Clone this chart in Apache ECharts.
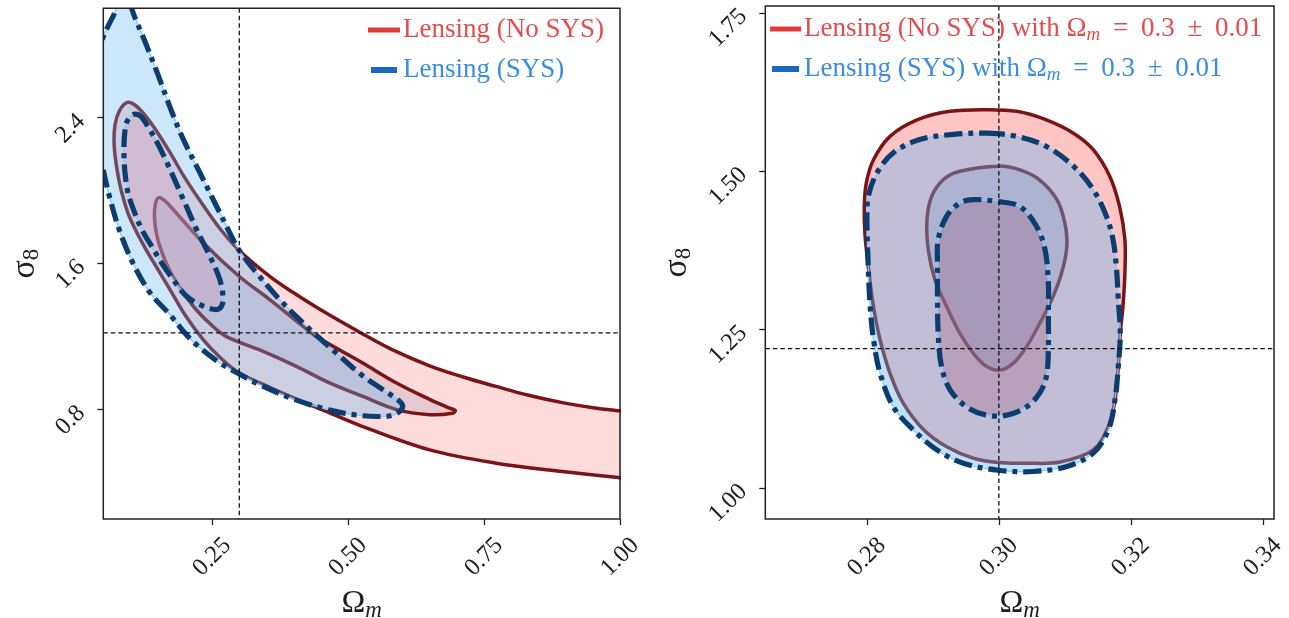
<!DOCTYPE html>
<html>
<head>
<meta charset="utf-8">
<script src="https://cdn.jsdelivr.net/npm/echarts@6/dist/echarts.min.js"></script>
<style>html,body{margin:0;padding:0;background:#fff}#chart{width:1289px;height:618px}</style>
</head>
<body>
<div id="chart"></div>
<script>
// ---------------- data ----------------
const refOmegaM = 0.3;
const refSigma8 = 1.22;

const leftXTicks = [0.25, 0.50, 0.75, 1.00];
const leftYTicks = [0.8, 1.6, 2.4];
const rightXTicks = [0.28, 0.30, 0.32, 0.34];
const rightYTicks = [1.00, 1.25, 1.50, 1.75];

const legendLeft = ['Lensing (No SYS)', 'Lensing (SYS)'];
const legendRight = ['Lensing (No SYS) with ', 'Lensing (SYS) with '];
const priorText = ['0.3', '0.01'];

// Left panel: wide prior, contours [Omega_m, sigma_8]
const leftRedOuter = [[0.094,2.484],[0.108,2.47],[0.125,2.42],[0.145,2.34],[0.1726,2.21],[0.20,2.07],[0.2336,1.92],[0.265,1.79],[0.30,1.672],[0.356,1.53],[0.40,1.44],[0.448,1.35],[0.524,1.22],[0.58,1.13],[0.65,1.04],[0.71,0.98],[0.772,0.927],[0.83,0.88],[0.894,0.838],[0.95,0.81],[0.992,0.795],[1.06,0.775],[1.06,0.413],[0.992,0.429],[0.894,0.46],[0.772,0.506],[0.65,0.579],[0.527,0.707],[0.466,0.782],[0.405,0.857],[0.35,0.93],[0.30,1.0],[0.265,1.085],[0.2336,1.184],[0.20,1.32],[0.1726,1.458],[0.15,1.57],[0.128,1.68],[0.11,1.78],[0.095,1.88],[0.083,2.0],[0.075,2.12],[0.07,2.25],[0.0715,2.36],[0.08,2.44]];
const leftRedInner = [[0.152,1.962],[0.165,1.94],[0.1726,1.916],[0.2336,1.715],[0.2996,1.531],[0.356,1.403],[0.417,1.257],[0.4417,1.20],[0.527,1.055],[0.589,0.946],[0.65,0.856],[0.683,0.812],[0.697,0.795],[0.692,0.78],[0.65,0.772],[0.589,0.80],[0.527,0.872],[0.466,0.946],[0.405,1.037],[0.344,1.119],[0.2765,1.20],[0.25,1.26],[0.22,1.35],[0.195,1.45],[0.1726,1.56],[0.158,1.66],[0.148,1.76],[0.144,1.86],[0.146,1.93]];
const leftBlueOuter = [[0.035,2.30],[0.05,2.11],[0.062,1.96],[0.08,1.78],[0.105,1.60],[0.136,1.44],[0.1726,1.32],[0.209,1.19],[0.26,1.065],[0.30,0.995],[0.344,0.927],[0.405,0.852],[0.466,0.797],[0.515,0.77],[0.558,0.762],[0.585,0.772],[0.60,0.81],[0.595,0.845],[0.564,0.909],[0.527,0.985],[0.484,1.095],[0.4355,1.224],[0.4171,1.275],[0.3744,1.403],[0.3316,1.55],[0.30,1.672],[0.2886,1.733],[0.258,1.916],[0.2275,2.099],[0.197,2.282],[0.175,2.44],[0.15,2.64],[0.125,2.83],[0.102,3.0],[0.094,3.12],[0.08,3.12],[0.074,3.0],[0.06,2.91],[0.05,2.845],[0.035,2.70]];
const leftBlueInner = [[0.109,2.42],[0.12,2.405],[0.131,2.356],[0.149,2.264],[0.167,2.154],[0.197,1.953],[0.2214,1.788],[0.2459,1.641],[0.2642,1.513],[0.2703,1.41],[0.267,1.365],[0.258,1.348],[0.2336,1.367],[0.2031,1.421],[0.1785,1.513],[0.158,1.60],[0.14,1.69],[0.122,1.78],[0.105,1.90],[0.094,2.008],[0.088,2.19],[0.091,2.355],[0.099,2.405]];

// Right panel: Omega_m = 0.3 +- 0.01 prior
const rightRedOuter = [[0.2981,1.597],[0.3027,1.5945],[0.3072,1.581],[0.3113,1.560],[0.3143,1.534],[0.3168,1.492],[0.3183,1.444],[0.3191,1.392],[0.3191,1.339],[0.3188,1.286],[0.3184,1.244],[0.3181,1.192],[0.3176,1.139],[0.3166,1.097],[0.3143,1.060],[0.3093,1.041],[0.3042,1.039],[0.2999,1.040],[0.2961,1.047],[0.2921,1.065],[0.2886,1.092],[0.2855,1.134],[0.2835,1.181],[0.2820,1.234],[0.2810,1.286],[0.2802,1.350],[0.2797,1.402],[0.2796,1.444],[0.2799,1.481],[0.2810,1.518],[0.2835,1.555],[0.2876,1.581],[0.2926,1.5945]];
const rightRedInner = [[0.2999,1.508],[0.3032,1.502],[0.3062,1.486],[0.3088,1.455],[0.3100,1.418],[0.3103,1.381],[0.3095,1.339],[0.3080,1.297],[0.3062,1.260],[0.3042,1.223],[0.3022,1.197],[0.3002,1.186],[0.2981,1.192],[0.2961,1.213],[0.2941,1.244],[0.2921,1.286],[0.2903,1.329],[0.2893,1.376],[0.2891,1.423],[0.2898,1.460],[0.2916,1.487],[0.2941,1.500]];
const rightBlueOuter = [[0.2982,1.560],[0.3027,1.555],[0.3072,1.539],[0.3113,1.508],[0.3143,1.471],[0.3163,1.429],[0.3173,1.392],[0.3178,1.350],[0.3181,1.297],[0.3184,1.244],[0.3181,1.192],[0.3176,1.139],[0.3166,1.092],[0.3143,1.055],[0.3103,1.034],[0.3052,1.026],[0.2999,1.028],[0.2946,1.039],[0.2906,1.060],[0.2870,1.092],[0.2840,1.128],[0.2820,1.181],[0.2810,1.234],[0.2805,1.286],[0.2802,1.350],[0.2800,1.429],[0.2802,1.460],[0.2815,1.497],[0.2840,1.529],[0.2880,1.550],[0.2931,1.558]];
const rightBlueInner = [[0.2999,1.452],[0.3032,1.444],[0.3057,1.413],[0.3070,1.376],[0.3075,1.323],[0.3075,1.271],[0.3075,1.218],[0.3072,1.176],[0.3062,1.150],[0.3042,1.128],[0.3012,1.115],[0.2981,1.115],[0.2951,1.128],[0.2926,1.155],[0.2913,1.192],[0.2908,1.244],[0.2907,1.297],[0.2907,1.350],[0.2908,1.392],[0.2921,1.429],[0.2941,1.450],[0.2961,1.455]];

// ---------------- style ----------------
const FONT = 'Liberation Serif';
const INK = '#1e1e1e';
const RED_LINE = '#7a1416';
const BLUE_LINE = '#0c3d70';
const BLUE_EDGE = '#8ec8f2';
const BLUE_DASH = [18, 6, 5, 6];

function contourSeries(idx, pts, fill, kind, z) {
  const isBlue = kind === 'blue';
  return {
    type: 'custom', xAxisIndex: idx, yAxisIndex: idx, z: z, clip: true, silent: true,
    data: pts,
    renderItem: function (params, api) {
      if (params.dataIndex !== 0) return null;
      const P = pts.map(function (p) { return api.coord(p); });
      const kids = [{
        type: 'polygon', shape: { points: P, smooth: 0.35 },
        style: { fill: fill, stroke: isBlue ? BLUE_EDGE : 'none', lineWidth: isBlue ? 1.3 : 0 }
      }, {
        type: 'polygon', shape: { points: P, smooth: 0.35 },
        style: isBlue
          ? { fill: 'none', stroke: BLUE_LINE, lineWidth: 5.2, lineDash: BLUE_DASH, lineCap: 'butt', lineJoin: 'round' }
          : { fill: 'none', stroke: RED_LINE, lineWidth: 3.5, lineJoin: 'round' }
      }];
      return { type: 'group', children: kids };
    }
  };
}

function refSeries(idx) {
  return {
    type: 'custom', xAxisIndex: idx, yAxisIndex: idx, z: 50, silent: true,
    data: [[refOmegaM, refSigma8]],
    renderItem: function (params, api) {
      const cs = params.coordSys;
      const c = api.coord([api.value(0), api.value(1)]);
      const dash = { stroke: '#111', lineWidth: 1.3, lineDash: [4.5, 3] };
      return { type: 'group', children: [
        { type: 'line', shape: { x1: c[0], y1: cs.y, x2: c[0], y2: cs.y + cs.height }, style: dash },
        { type: 'line', shape: { x1: cs.x, y1: c[1], x2: cs.x + cs.width, y2: c[1] }, style: dash },
        { type: 'rect', shape: { x: cs.x, y: cs.y, width: cs.width, height: cs.height }, style: { fill: 'none', stroke: '#222', lineWidth: 1.5 } }
      ]};
    }
  };
}

function xAxis(idx, min, max, ticks) {
  return {
    type: 'value', gridIndex: idx, min: min, max: max,
    splitLine: { show: false },
    axisLine: { show: false, onZero: false },
    axisTick: { show: true, customValues: ticks, length: 6, lineStyle: { color: '#222', width: 1.3 } },
    axisLabel: { customValues: ticks, formatter: function (v) { return v.toFixed(2); },
      rotate: 45, align: 'center', verticalAlign: 'middle', margin: 38,
      fontFamily: FONT, fontSize: 24.5, color: INK },
    name: '{a|Ω}{b|m}', nameLocation: 'middle', nameGap: 58,
    nameTextStyle: { color: INK, fontFamily: FONT, rich: {
      a: { fontFamily: FONT, fontSize: 32, color: INK },
      b: { fontFamily: FONT, fontSize: 23, fontStyle: 'italic', color: INK, padding: [14, 0, 0, 0] } } }
  };
}
function yAxis(idx, min, max, ticks, dec, gap) {
  return {
    type: 'value', gridIndex: idx, min: min, max: max,
    splitLine: { show: false },
    axisLine: { show: false, onZero: false },
    axisTick: { show: true, customValues: ticks, length: 6, lineStyle: { color: '#222', width: 1.3 } },
    axisLabel: { customValues: ticks, formatter: function (v) { return v.toFixed(dec); },
      rotate: 45, margin: 22, fontFamily: FONT, fontSize: 24.5, color: INK },
    name: '{a|σ}{b|8}', nameLocation: 'middle', nameGap: gap, nameRotate: 90,
    nameTextStyle: { color: INK, fontFamily: FONT, rich: {
      a: { fontFamily: FONT, fontSize: 34, color: INK },
      b: { fontFamily: FONT, fontSize: 23, color: INK, padding: [14, 0, 0, 0] } } }
  };
}

function legendItem(x1, x2, y, color, lw, textColor, tx, text) {
  const base = { fontFamily: FONT, fontSize: 27, fill: textColor };
  return [
    { type: 'line', shape: { x1: x1, y1: y, x2: x2, y2: y }, style: { stroke: color, lineWidth: lw }, z: 100 },
    { type: 'text', x: tx, y: y, z: 100, style: { text: text, fill: textColor, font: '27px "' + FONT + '"',
      verticalAlign: 'middle', align: 'left', rich: {
        o: base,
        m: { fontFamily: FONT, fontSize: 19, fontStyle: 'italic', fill: textColor, padding: [11, 0, 0, 0] },
        e: { fontFamily: FONT, fontSize: 27, fill: textColor, padding: [0, 6, 0, 6] }
      } } }
  ];
}
const RED_LEG = '#e23a3a', RED_TXT = '#e54b4c', BLUE_LEG = '#1a68c4', BLUE_TXT = '#3a8ce0';
const priorRich = '{o|Ω}{m|m}{o| }{e|=}{o| ' + priorText[0] + ' }{e|±}{o| ' + priorText[1] + '}';

const option = {
  animation: false,
  grid: [
    { left: 103.3, top: 8.3, width: 516.7, height: 510.7, containLabel: false, outerBoundsMode: 'none' },
    { left: 765.3, top: 6.1, width: 508.7, height: 512.9, containLabel: false, outerBoundsMode: 'none' }
  ],
  xAxis: [ xAxis(0, 0.05, 1.0, leftXTicks), xAxis(1, 0.2646, 0.3417, rightXTicks) ],
  yAxis: [ yAxis(0, 0.2, 3.0, leftYTicks, 1, 60), yAxis(1, 0.951, 1.7606, rightYTicks, 2, 70) ],
  series: [
    contourSeries(0, leftRedOuter, 'rgba(255,120,120,0.26)', 'red', 2),
    contourSeries(0, leftRedInner, 'rgba(120,120,160,0.18)', 'red', 3),
    contourSeries(0, leftBlueOuter, 'rgba(100,180,240,0.33)', 'blue', 4),
    contourSeries(0, leftBlueInner, 'rgba(220,150,180,0.30)', 'blue', 5),
    contourSeries(1, rightRedOuter, 'rgba(255,120,120,0.43)', 'red', 2),
    contourSeries(1, rightRedInner, 'rgba(120,120,160,0.25)', 'red', 3),
    contourSeries(1, rightBlueOuter, 'rgba(100,180,240,0.40)', 'blue', 4),
    contourSeries(1, rightBlueInner, 'rgba(160,100,130,0.33)', 'blue', 5),
    refSeries(0),
    refSeries(1)
  ],
  graphic: [].concat(
    legendItem(368, 400, 30, RED_LEG, 5, RED_TXT, 403, legendLeft[0]),
    legendItem(371, 397, 70, BLUE_LEG, 6, BLUE_TXT, 403, legendLeft[1]),
    legendItem(770, 801, 29, RED_LEG, 5, RED_TXT, 804, legendRight[0] + priorRich),
    legendItem(772, 799, 69, BLUE_LEG, 6, BLUE_TXT, 804, legendRight[1] + priorRich)
  )
};

const chart = echarts.init(document.getElementById('chart'), null, { renderer: 'canvas' });
chart.setOption(option);
</script>
</body>
</html>
